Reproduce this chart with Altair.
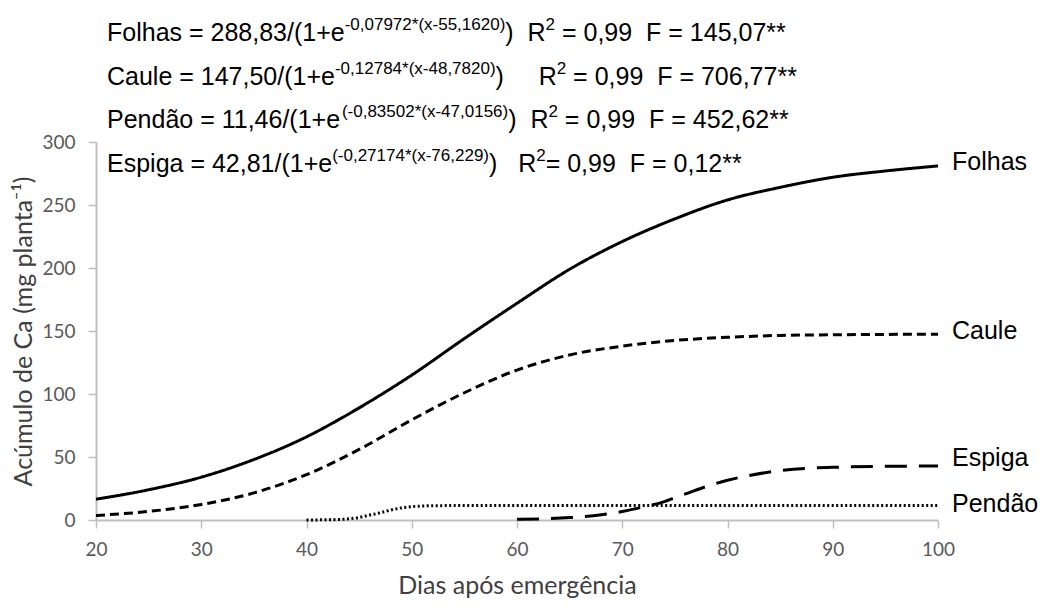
import altair as alt
import pandas as pd

# ---------------- data ----------------
folhas_x = [20, 25, 30, 35, 40, 45, 50, 55, 60, 65, 70, 75, 80, 85, 90, 95, 100]
folhas_y = [16.5, 24, 34, 48, 66, 89, 115, 144, 172, 199, 221, 239, 254, 264, 272, 277, 281]

caule_x = [20, 25, 30, 35, 40, 45, 50, 55, 60, 65, 70, 75, 80, 85, 90, 95, 100]
caule_y = [3.6, 6.8, 12.3, 21.5, 36, 56, 79.5, 101, 119, 131, 138, 142.5, 145, 146.5, 147, 147.3, 147.4]

pendao_x = [40, 42, 43, 44, 45, 46, 47, 48, 49, 50, 51, 52, 54, 60, 70, 80, 90, 100]
pendao_y = [0.0, 0.2, 0.4, 0.9, 2.0, 3.9, 5.7, 7.9, 9.6, 10.6, 11.1, 11.3, 11.44, 11.46, 11.46, 11.46, 11.46, 11.46]

espiga_x = [60, 65, 68, 70, 72, 74, 75, 76, 78, 80, 82, 85, 88, 90, 95, 100]
espiga_y = [0.5, 1.9, 4.1, 6.7, 10.4, 14.6, 17.8, 20.7, 26.6, 31.5, 35.2, 39.2, 41.2, 41.8, 42.6, 42.8]

series_names = ["Folhas", "Caule", "Pendão", "Espiga"]
x_ticks = [20, 30, 40, 50, 60, 70, 80, 90, 100]
y_ticks = [0, 50, 100, 150, 200, 250, 300]

equations = [
    [("Folhas = 288,83/(1+e", 0), ("-0,07972*(x-55,1620)", 1), (")  R", 0), ("2", 1), (" = 0,99  F = 145,07**", 0)],
    [("Caule = 147,50/(1+e", 0), ("-0,12784*(x-48,7820)", 1), (")     R", 0), ("2", 1), (" = 0,99  F = 706,77**", 0)],
    [("Pendão = 11,46/(1+e", 0), ("(-0,83502*(x-47,0156)", 1), (")  R", 0), ("2", 1), (" = 0,99  F = 452,62**", 0)],
    [("Espiga = 42,81/(1+e", 0), ("(-0,27174*(x-76,229)", 1), (")   R", 0), ("2", 1), ("= 0,99  F = 0,12**", 0)],
]

# ---------------- layout / style ----------------
W, H = 842, 378
PAD = {"left": 96, "top": 142, "right": 105, "bottom": 90}
MAIN_FS, SUP_FS = 25, 17
EQ_X0 = 11
EQ_BASE = [-101, -57, -14, 30]
SUP_RAISE = 11
label_dy = {"Folhas": -4, "Caule": -3, "Pendão": -2, "Espiga": -8}

ARIAL = {" ": 278, "(": 333, ")": 333, "*": 389, "+": 584, ",": 278, "-": 333, ".": 278,
         "/": 278, "=": 584, "C": 722, "E": 667, "F": 611, "P": 667, "R": 722,
         "a": 556, "d": 556, "e": 556, "g": 556, "h": 556, "i": 222, "l": 222, "n": 556,
         "o": 556, "p": 556, "s": 500, "u": 556, "x": 500, "ã": 556}


def cw(ch, fs):
    return (556 if ch.isdigit() else ARIAL.get(ch, 556)) * fs / 1000.0


main_tok, sup_tok = [], []
for i, eq in enumerate(equations):
    x = EQ_X0
    for text, sup in eq:
        fs = SUP_FS if sup else MAIN_FS
        cur, start = "", x
        for ch in text:
            if ch == " ":
                if cur:
                    (sup_tok if sup else main_tok).append({"t": cur, "px": start, "py": EQ_BASE[i] - (SUP_RAISE if sup else 0)})
                    cur = ""
                x += cw(ch, fs)
            else:
                if not cur:
                    start = x
                cur += ch
                x += cw(ch, fs)
        if cur:
            (sup_tok if sup else main_tok).append({"t": cur, "px": start, "py": EQ_BASE[i] - (SUP_RAISE if sup else 0)})

rows = []
for name, xs_, ys_ in [("Folhas", folhas_x, folhas_y), ("Caule", caule_x, caule_y),
                       ("Pendão", pendao_x, pendao_y), ("Espiga", espiga_x, espiga_y)]:
    for a, b in zip(xs_, ys_):
        rows.append({"serie": name, "dia": a, "ca": b})
df = pd.DataFrame(rows)

labels = pd.DataFrame({
    "serie": series_names,
    "dia": [folhas_x[-1], caule_x[-1], pendao_x[-1], espiga_x[-1]],
    "ca": [folhas_y[-1], caule_y[-1], pendao_y[-1], espiga_y[-1]],
})

axis_common = dict(grid=False, domainColor="#bfbfbf", domainWidth=2, tickColor="#bfbfbf",
                   tickWidth=1.5, tickSize=8, labelFont="Lato", labelFontSize=19,
                   labelColor="#595959", titleFont="Lato", titleFontSize=25,
                   titleColor="#404040", titleFontWeight="normal")

xs = alt.X("dia:Q", scale=alt.Scale(domain=[20, 100], nice=False),
           axis=alt.Axis(values=x_ticks, title="Dias após emergência", labelFlush=False,
                         labelPadding=12, titlePadding=14, **axis_common))
ys = alt.Y("ca:Q", scale=alt.Scale(domain=[0, 300], nice=False),
           axis=alt.Axis(values=y_ticks, title="Acúmulo de Ca (mg planta⁻¹)",
                         labelPadding=13, titlePadding=5, **axis_common))

lines = alt.Chart(df).mark_line(color="black", interpolate="monotone", strokeCap="butt").encode(
    x=xs, y=ys,
    strokeDash=alt.StrokeDash("serie:N", scale=alt.Scale(domain=series_names,
                              range=[[1, 0], [9, 5], [2, 2.5], [22, 12]]), legend=None),
    strokeWidth=alt.StrokeWidth("serie:N", scale=alt.Scale(domain=series_names,
                                range=[3, 3, 2.5, 3.5]), legend=None),
)

lbl_layers = []
for name in series_names:
    lbl_layers.append(
        alt.Chart(labels[labels.serie == name]).mark_text(
            align="left", baseline="middle", dx=14, dy=label_dy[name],
            font="Liberation Sans", fontSize=25, color="black").encode(
            x="dia:Q", y="ca:Q", text="serie:N")
    )

eq_main = alt.Chart(pd.DataFrame(main_tok)).mark_text(
    align="left", baseline="alphabetic", font="Liberation Sans", fontSize=MAIN_FS, color="black").encode(
    x=alt.X("px:Q", scale=None, axis=None), y=alt.Y("py:Q", scale=None, axis=None), text="t:N")
eq_sup = alt.Chart(pd.DataFrame(sup_tok)).mark_text(
    align="left", baseline="alphabetic", font="Liberation Sans", fontSize=SUP_FS, color="black").encode(
    x=alt.X("px:Q", scale=None, axis=None), y=alt.Y("py:Q", scale=None, axis=None), text="t:N")

base = alt.layer(lines, *lbl_layers)
chart = alt.layer(base, eq_main, eq_sup).resolve_scale(x="independent", y="independent").properties(
    width=W, height=H, padding=PAD, autosize=alt.AutoSizeParams(type="none"),
    background="white",
).configure_view(stroke=None)

chart.save("out.html", embed_options={"renderer": "svg", "actions": False})
